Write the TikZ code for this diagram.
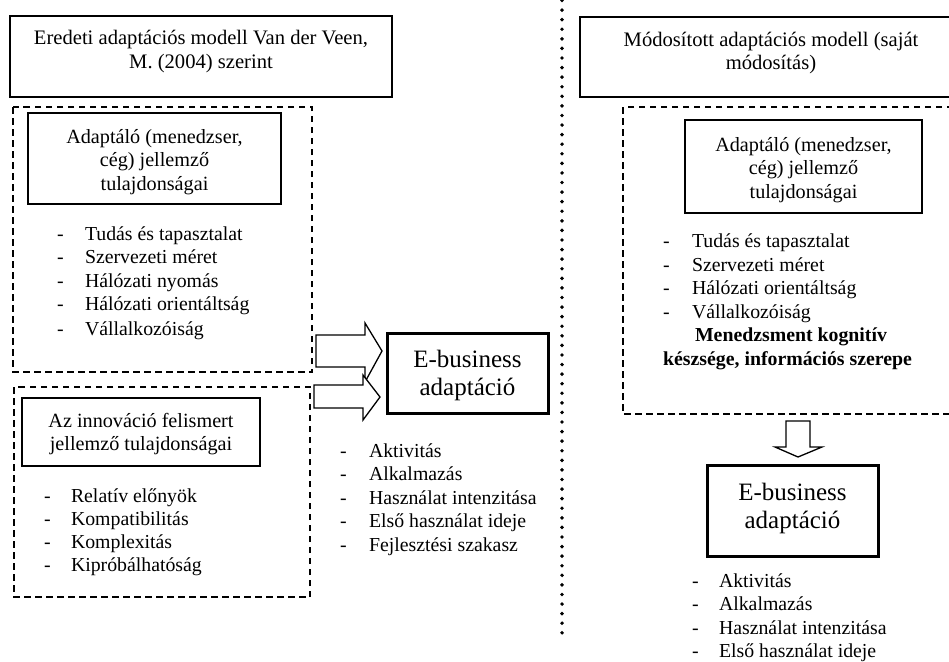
\documentclass[tikz,border=0pt]{standalone}
\usepackage{fontspec}
\setmainfont{Liberation Serif}
\begin{document}
\begin{tikzpicture}[x=1pt,y=-1pt,
  every node/.style={inner sep=0pt, outer sep=0pt},
  txt/.style={font=\fontsize{20.2}{23.5}\selectfont, anchor=base},
  ttl/.style={font=\fontsize{20.6}{23.5}\selectfont, anchor=base},
  itm/.style={font=\fontsize{19.8}{23.5}\selectfont, anchor=base west},
  bigtxt/.style={font=\fontsize{25}{29}\selectfont, anchor=base},
  bld/.style={font=\fontsize{19.8}{23.5}\selectfont\bfseries, anchor=base},
  frame/.style={draw, line width=1.9pt},
  inbox/.style={draw, line width=2.3pt},
  ebox/.style={draw, line width=3pt},
  dbox/.style={draw, line width=1.5pt, dash pattern=on 6.5pt off 4.5pt},
  barrow/.style={draw, line width=1.3pt, fill=white, line join=miter},
  dotline/.style={line width=3.9pt, line cap=round, dash pattern=on 0pt off 9.58pt}
]
\useasboundingbox (0,0) rectangle (949,661);
\clip (0,0) rectangle (949,661);

% ---------------- left side ----------------
\draw[frame] (10,16) rectangle (392,97);
\node[ttl] (lt1) at (201,44.5) {Eredeti adaptációs modell Van der Veen,};
\node[ttl] (lt2) at (201,68) {M. (2004) szerint};

\draw[dbox] (13,107) rectangle (312,372);
\draw[inbox] (28,113) rectangle (281,204);
\node[txt] (la1) at (154.5,143) {Adaptáló (menedzser,};
\node[txt] (la2) at (154.5,166.5) {cég) jellemző};
\node[txt] (la3) at (154.5,190) {tulajdonságai};

\foreach \t/\y [count=\i] in {Tudás és tapasztalat/240, Szervezeti méret/263.5,
    Hálózati nyomás/287, Hálózati orientáltság/310.5, Vállalkozóiság/335}{
  \node[itm] (lp\i) at (57,\y) {-};
  \node[itm] (li\i) at (85,\y) {\t};
}

\draw[dbox] (14,387) rectangle (310,597);
\draw[inbox] (22,398) rectangle (260,466);
\node[txt] (lb1) at (141,427) {Az innováció felismert};
\node[txt] (lb2) at (141,450) {jellemző tulajdonságai};

\foreach \t/\y [count=\i] in {Relatív előnyök/502, Kompatibilitás/525,
    Komplexitás/548, Kipróbálhatóság/571}{
  \node[itm] (mp\i) at (44,\y) {-};
  \node[itm] (mi\i) at (71,\y) {\t};
}

% block arrows
\draw[barrow] (316,335) -- (365,335) -- (365,323) -- (382,351) -- (365,382)
  -- (365,367) -- (316,367) -- cycle;
\draw[barrow] (314,385) -- (363,385) -- (363,375) -- (380,397) -- (363,420)
  -- (363,408) -- (314,408) -- cycle;

\draw[ebox] (387,333) rectangle (548,413);
\node[bigtxt] (le1) at (467.5,367) {E-business};
\node[bigtxt] (le2) at (467.5,395) {adaptáció};

\foreach \t/\y [count=\i] in {Aktivitás/457, Alkalmazás/480.5,
    Használat intenzitása/504, Első használat ideje/527.5, Fejlesztési szakasz/551}{
  \node[itm] (np\i) at (340,\y) {-};
  \node[itm] (ni\i) at (369,\y) {\t};
}

% ---------------- divider ----------------
\coordinate (dtop) at (562,0.5);
\coordinate (dbot) at (562,633);
\draw[dotline] (dtop) -- (dbot);

% ---------------- right side ----------------
\draw[frame] (580,17) rectangle (962,97);
\node[ttl] (rt1) at (771,46) {Módosított adaptációs modell (saját};
\node[ttl] (rt2) at (771,69.5) {módosítás)};

\draw[dbox] (623,107) rectangle (965,414);
\draw[inbox] (685,120) rectangle (922,213);
\node[txt] (ra1) at (803.5,151) {Adaptáló (menedzser,};
\node[txt] (ra2) at (803.5,174.5) {cég) jellemző};
\node[txt] (ra3) at (803.5,198) {tulajdonságai};

\foreach \t/\y [count=\i] in {Tudás és tapasztalat/247.5, Szervezeti méret/271,
    Hálózati orientáltság/294.5, Vállalkozóiság/318}{
  \node[itm] (rp\i) at (663,\y) {-};
  \node[itm] (ri\i) at (692,\y) {\t};
}
\node[bld] (rb1) at (791,341.5) {Menedzsment kognitív};
\node[bld] (rb2) at (787.5,365) {készsége, információs szerepe};

\draw[barrow] (786,421) -- (810,421) -- (810,447) -- (822,447) -- (798,457)
  -- (775,447) -- (786,447) -- cycle;

\draw[ebox] (707,465) rectangle (878,556);
\node[bigtxt] (re1) at (792.5,500) {E-business};
\node[bigtxt] (re2) at (792.5,528) {adaptáció};

\foreach \t/\y [count=\i] in {Aktivitás/587, Alkalmazás/610.5,
    Használat intenzitása/634, Első használat ideje/657}{
  \node[itm] (sp\i) at (692,\y) {-};
  \node[itm] (si\i) at (719,\y) {\t};
}
\end{tikzpicture}
\end{document}
